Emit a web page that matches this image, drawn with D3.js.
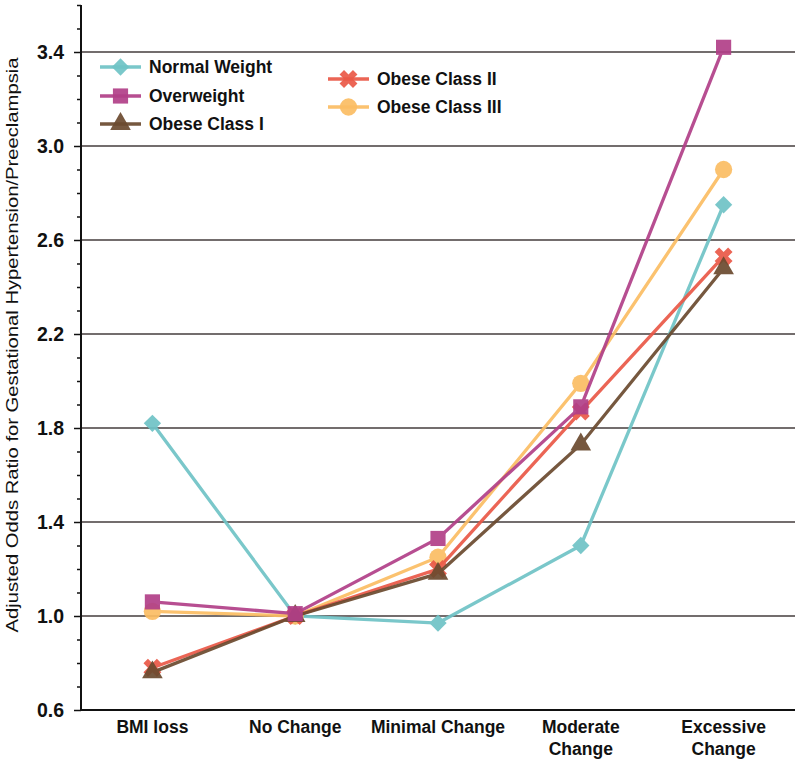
<!DOCTYPE html>
<html lang="en">
<head>
  <meta charset="UTF-8">
  <title>Adjusted Odds Ratio</title>
  <style>
    body { margin: 0; background: #fff; }
    svg { display: block; font-family: "Liberation Sans", Arial, sans-serif; }
  </style>
</head>
<body>
<div id="chart"></div>
<script src="https://cdn.jsdelivr.net/npm/d3@7"></script>
<script>
  // data
  const categories = ["BMI loss", "No Change", "Minimal Change", "Moderate Change", "Excessive Change"];
  const categoryLabels = [["BMI loss"], ["No Change"], ["Minimal Change"], ["Moderate", "Change"], ["Excessive", "Change"]];
  const seriesNames = ["Normal Weight", "Overweight", "Obese Class I", "Obese Class II", "Obese Class III"];
  const normalWeight = [1.82, 1.00, 0.97, 1.30, 2.75];
  const overweight   = [1.06, 1.01, 1.33, 1.89, 3.42];
  const obeseI       = [0.76, 1.00, 1.18, 1.73, 2.48];
  const obeseII      = [0.78, 1.00, 1.20, 1.87, 2.53];
  const obeseIII     = [1.02, 1.00, 1.25, 1.99, 2.90];
  const yTicks = [0.6, 1.0, 1.4, 1.8, 2.2, 2.6, 3.0, 3.4];
  const yMinorTicks = d3.range(6, 37).map(d => d / 10).filter(v => !yTicks.some(t => Math.abs(t - v) < 1e-9));

  const W = 800, H = 763;
  const margin = {top: 5, right: 5, bottom: 53, left: 81};

  const series = [
    {name: seriesNames[0], values: normalWeight, color: "#6fc3c6", symbol: "diamond"},
    {name: seriesNames[1], values: overweight,   color: "#b13f88", symbol: "square"},
    {name: seriesNames[2], values: obeseI,       color: "#6b4a2f", symbol: "triangle"},
    {name: seriesNames[3], values: obeseII,      color: "#ea5847", symbol: "x"},
    {name: seriesNames[4], values: obeseIII,     color: "#fbbd63", symbol: "circle"}
  ];

  const svg = d3.select("#chart").append("svg")
    .attr("width", W)
    .attr("height", H);

  const x = d3.scaleBand()
    .domain(categories)
    .range([margin.left, W - margin.right]);

  const y = d3.scaleLinear()
    .domain([0.6, 3.6])
    .range([H - margin.bottom, margin.top]);

  const cx = c => x(c) + x.bandwidth() / 2;

  // gridlines
  svg.append("g")
    .selectAll("line")
    .data(yTicks.slice(1))
    .join("line")
    .attr("x1", margin.left)
    .attr("x2", W - margin.right)
    .attr("y1", d => y(d))
    .attr("y2", d => y(d))
    .attr("stroke", "#443c3c")
    .attr("stroke-width", 1.6);

  // minor ticks
  svg.append("g")
    .attr("transform", "translate(" + margin.left + ",0)")
    .call(d3.axisLeft(y).tickValues(yMinorTicks).tickSize(4).tickFormat(""))
    .call(g => g.select(".domain").remove())
    .selectAll("line").attr("stroke", "#111").attr("stroke-width", 1.5);

  // major ticks + labels
  const yAxis = svg.append("g")
    .attr("transform", "translate(" + margin.left + ",0)")
    .call(d3.axisLeft(y).tickValues(yTicks).tickSize(7).tickPadding(10).tickFormat(d3.format(".1f")));
  yAxis.select(".domain").attr("d", "M0," + y(3.6) + "V" + y(0.6)).attr("stroke", "#111").attr("stroke-width", 2);
  yAxis.selectAll(".tick line").attr("stroke", "#111").attr("stroke-width", 1.5);
  yAxis.selectAll(".tick text")
    .attr("font-size", 19.5)
    .attr("font-weight", "bold")
    .attr("fill", "#111")
    .attr("font-family", "Liberation Sans, Arial, sans-serif");

  // x axis line
  svg.append("line")
    .attr("x1", margin.left)
    .attr("x2", W - margin.right)
    .attr("y1", y(0.6))
    .attr("y2", y(0.6))
    .attr("stroke", "#111")
    .attr("stroke-width", 2);

  // x labels
  const xl = svg.append("g")
    .selectAll("text")
    .data(categories)
    .join("text")
    .attr("x", d => cx(d))
    .attr("y", y(0.6) + 23)
    .attr("text-anchor", "middle")
    .attr("font-size", 17.5)
    .attr("font-weight", "bold")
    .attr("fill", "#111");
  xl.each(function(d, i) {
    d3.select(this).selectAll("tspan")
      .data(categoryLabels[i])
      .join("tspan")
      .attr("x", cx(d))
      .attr("dy", (t, j) => j === 0 ? 0 : 22)
      .text(t => t);
  });

  // y title
  svg.append("text")
    .attr("transform", "translate(18," + 345 + ") rotate(-90)")
    .attr("text-anchor", "middle")
    .attr("font-size", 17)
    .attr("fill", "#111")
    .attr("textLength", 575)
    .attr("lengthAdjust", "spacingAndGlyphs")
    .text("Adjusted Odds Ratio for Gestational Hypertension/Preeclampsia");

  const symbolPath = (kind) => {
    switch (kind) {
      case "diamond": return d3.symbol(d3.symbolSquare, 150)();
      case "square": return d3.symbol(d3.symbolSquare, 230)();
      case "triangle": return d3.symbol(d3.symbolTriangle, 185)();
      case "x": return d3.symbol(d3.symbolCross, 200)();
      default: return d3.symbol(d3.symbolCircle, 235)();
    }
  };
  const symbolRotate = kind => (kind === "diamond" || kind === "x") ? " rotate(45)" : "";

  const line = d3.line()
    .x((d, i) => cx(categories[i]))
    .y(d => y(d));

  const drawOrder = [0, 4, 3, 2, 1];
  drawOrder.forEach(k => {
    const s = series[k];
    const g = svg.append("g").attr("opacity", 0.92);
    g.append("path")
      .datum(s.values)
      .attr("fill", "none")
      .attr("stroke", s.color)
      .attr("stroke-width", 3.3)
      .attr("d", line);
    g.selectAll("path.mark")
      .data(s.values)
      .join("path")
      .attr("class", "mark")
      .attr("fill", s.color)
      .attr("d", symbolPath(s.symbol))
      .attr("transform", (d, i) => "translate(" + cx(categories[i]) + "," + y(d) + ")" + symbolRotate(s.symbol));
  });

  // legend
  const legendPos = [
    {x: 100, y: 67}, {x: 100, y: 96}, {x: 100, y: 124},
    {x: 328, y: 79}, {x: 328, y: 107}
  ];
  const legend = svg.append("g");
  series.forEach((s, i) => {
    const p = legendPos[i];
    const g = legend.append("g").attr("transform", "translate(" + p.x + "," + p.y + ")");
    g.append("line")
      .attr("x1", 0).attr("x2", 41)
      .attr("stroke", s.color)
      .attr("stroke-width", 3.3)
      .attr("opacity", 0.92);
    g.append("path")
      .attr("fill", s.color)
      .attr("opacity", 0.92)
      .attr("d", symbolPath(s.symbol))
      .attr("transform", "translate(20.5,0)" + symbolRotate(s.symbol));
    g.append("text")
      .attr("x", 49)
      .attr("y", 6)
      .attr("font-size", 17.5)
      .attr("font-weight", "bold")
      .attr("fill", "#111")
      .text(s.name);
  });
</script>
</body>
</html>
